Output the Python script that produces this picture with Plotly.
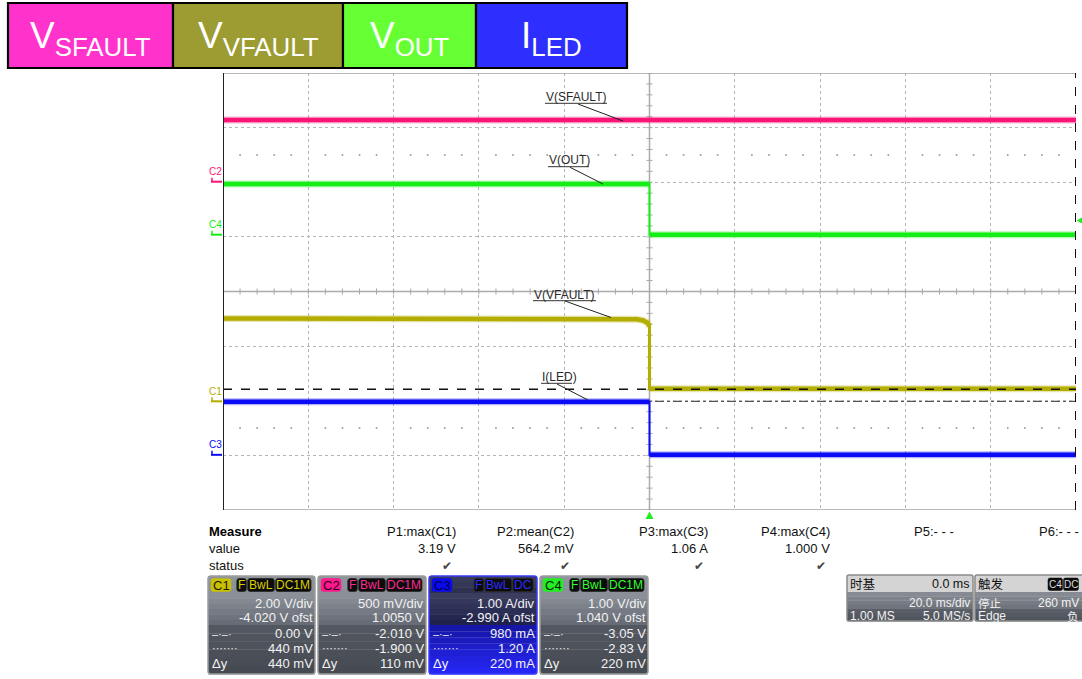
import plotly.graph_objects as go

W, H = 1082, 679
FONT = "Liberation Sans, Arial, Helvetica, sans-serif"
CJK = "Noto Sans CJK SC, Liberation Sans, sans-serif"

# ---------------- data ----------------
TIME_PER_DIV = 20.0          # ms / div
X_DIVS = 10
Y_DIVS = 8

CH_NAMES = ["C1", "C2", "C3", "C4"]
CH_SCALE = [2.0, 0.5, 1.0, 1.0]          # units / div
CH_OFFSET = [-4.02, 1.005, -2.99, 1.04]  # offsets
CH_COLORS = ["#b3ad00", "#fa1478", "#0a0af5", "#14ee14"]

# V(SFAULT) -> C2
sfault_t = [-100.0, 100.0]
sfault_v = [0.565, 0.565]
# V(OUT) -> C4
vout_t = [-100.0, 0.0, 0.0, 100.0]
vout_v = [0.93, 0.93, 0.0, 0.0]
# V(VFAULT) -> C1
vfault_t = [-100.0, -6.0, -3.0, -1.5, -0.5, 0.0, 0.0, 100.0]
vfault_v = [3.03, 3.03, 3.00, 2.96, 2.88, 2.75, 0.46, 0.46]
# I(LED) -> C3
iled_t = [-100.0, 0.0, 0.0, 100.0]
iled_i = [0.97, 0.97, 0.0, 0.0]

CURSOR_DASHDOT_C1 = 0.0
CURSOR_DOTTED_C1 = 0.44
TRIG_LEVEL_C4 = 0.26

LEGEND_MAIN = ["V", "V", "V", "I"]
LEGEND_SUB = ["SFAULT", "VFAULT", "OUT", "LED"]
LEGEND_COLORS = ["#ff33cc", "#9c9c33", "#66ff33", "#2e2eff"]

TRACE_LABELS = ["V(SFAULT)", "V(OUT)", "V(VFAULT)", "I(LED)"]

MEAS_NAMES = ["P1:max(C1)", "P2:mean(C2)", "P3:max(C3)", "P4:max(C4)", "P5:- - -", "P6:- - -"]
MEAS_VALUES = ["3.19 V", "564.2 mV", "1.06 A", "1.000 V", "", ""]
MEAS_STATUS = ["✔", "✔", "✔", "✔", "", ""]

CH_TAGS = [["F", "BwL", "DC1M"], ["F", "BwL", "DC1M"], ["F", "BwL", "DC"], ["F", "BwL", "DC1M"]]
CH_ROW_VDIV = ["2.00 V/div", "500 mV/div", "1.00 A/div", "1.00 V/div"]
CH_ROW_OFST = ["-4.020 V ofst", "1.0050 V", "-2.990 A ofst", "1.040 V ofst"]
CH_ROW_CUR1 = ["0.00 V", "-2.010 V", "980 mA", "-3.05 V"]
CH_ROW_CUR2 = ["440 mV", "-1.900 V", "1.20 A", "-2.83 V"]
CH_ROW_DY = ["440 mV", "110 mV", "220 mA", "220 mV"]

TB_TEXT = ["时基", "0.0 ms", "20.0 ms/div", "1.00 MS", "5.0 MS/s"]
TRIG_TEXT = ["触发", "C4", "DC", "停止", "260 mV", "Edge", "负"]

# ---------------- layout geometry (pixels) ----------------
PX0, PX1, PY0, PY1 = 223, 1076, 73, 510
PX_PER_XDIV = (PX1 - PX0) / X_DIVS
PX_PER_YDIV = (PY1 - PY0) / Y_DIVS


def px(x):
    return x / W


def py(y):
    return 1 - y / H


shapes = []
annotations = []


def ann(x, y, text, size=13, color="#000", xa="left", ya="middle", family=FONT, **kw):
    annotations.append(dict(x=px(x), y=py(y), xref="paper", yref="paper", text=text, showarrow=False,
                            xanchor=xa, yanchor=ya, font=dict(size=size, color=color, family=family),
                            borderpad=0, **kw))


def rect(x0, y0, x1, y1, fill, line=None, lw=0, layer="above"):
    shapes.append(dict(type="rect", xref="paper", yref="paper", x0=px(x0), x1=px(x1), y0=py(y1), y1=py(y0),
                       fillcolor=fill, line=dict(color=line or fill, width=lw), layer=layer))


def rrect(x0, y0, x1, y1, r, fill, line=None, lw=0):
    P = lambda a, b: "%.6f,%.6f" % (px(a), py(b))
    path = ("M" + P(x0 + r, y0) + " L" + P(x1 - r, y0) + " Q" + P(x1, y0) + " " + P(x1, y0 + r) +
            " L" + P(x1, y1 - r) + " Q" + P(x1, y1) + " " + P(x1 - r, y1) +
            " L" + P(x0 + r, y1) + " Q" + P(x0, y1) + " " + P(x0, y1 - r) +
            " L" + P(x0, y0 + r) + " Q" + P(x0, y0) + " " + P(x0 + r, y0) + " Z")
    shapes.append(dict(type="path", xref="paper", yref="paper", path=path,
                       fillcolor=fill if fill else "rgba(0,0,0,0)",
                       line=dict(color=line or "rgba(0,0,0,0)", width=lw), layer="above"))


def pline(x0, y0, x1, y1, color, width=1, dash="solid"):
    shapes.append(dict(type="line", xref="paper", yref="paper", x0=px(x0), x1=px(x1), y0=py(y0), y1=py(y1),
                       line=dict(color=color, width=width, dash=dash), layer="above"))


def hexmix(c0, c1, f):
    a = [int(c0[i:i + 2], 16) for i in (1, 3, 5)]
    b = [int(c1[i:i + 2], 16) for i in (1, 3, 5)]
    return "#%02x%02x%02x" % tuple(int(round(a[k] + (b[k] - a[k]) * f)) for k in range(3))


def gradient(x0, y0, x1, y1, c0, c1, n=8):
    h = (y1 - y0) / n
    for k in range(n):
        rect(x0, y0 + k * h, x1, y0 + (k + 1) * h + 0.3, hexmix(c0, c1, k / max(n - 1, 1)))


fig = go.Figure()

# ---------------- axes ----------------
half_t = X_DIVS / 2 * TIME_PER_DIV
dom_x = [px(PX0), px(PX1)]
dom_y = [py(PY1), py(PY0)]
layout_axes = dict(
    xaxis=dict(domain=dom_x, range=[-half_t, half_t], dtick=TIME_PER_DIV, tick0=0, showgrid=True,
               gridcolor="#b4b4b4", griddash="dot", gridwidth=1, zeroline=False, showticklabels=False,
               ticks="", showline=False, fixedrange=True),
    yaxis=dict(domain=dom_y, range=[-Y_DIVS / 2, Y_DIVS / 2], dtick=1, tick0=0, showgrid=True,
               gridcolor="#b4b4b4", griddash="dot", gridwidth=1, zeroline=False, showticklabels=False,
               ticks="", showline=False, fixedrange=True),
)
for i in range(4):
    s, o = CH_SCALE[i], CH_OFFSET[i]
    layout_axes["yaxis%d" % (i + 2)] = dict(overlaying="y", range=[-Y_DIVS / 2 * s - o, Y_DIVS / 2 * s - o],
                                            visible=False, showgrid=False, zeroline=False, fixedrange=True)

# center line ticks and dotted rows
tick_x, tick_y = [], []
hx = 3.0 / PX_PER_YDIV  # half tick length in y-div
n_minor_x = X_DIVS * 5
for k in range(n_minor_x + 1):
    t = -half_t + k * TIME_PER_DIV / 5
    tick_x += [t, t, None]
    tick_y += [-hx, hx, None]
hy = 3.0 / PX_PER_XDIV * TIME_PER_DIV
for k in range(Y_DIVS * 5 + 1):
    d = -Y_DIVS / 2 + k * 0.2
    tick_x += [-hy, hy, None]
    tick_y += [d, d, None]
fig.add_trace(go.Scatter(x=tick_x, y=tick_y, mode="lines", line=dict(color="#a8a8a8", width=1),
                         hoverinfo="skip", showlegend=False))
dots_x, dots_y = [], []
for yy in (2.5, -2.5):
    for k in range(1, n_minor_x):
        t = -half_t + k * TIME_PER_DIV / 5
        if k % 5:
            dots_x.append(t)
            dots_y.append(yy)
fig.add_trace(go.Scatter(x=dots_x, y=dots_y, mode="markers", marker=dict(color="#a0a0a0", size=2),
                         hoverinfo="skip", showlegend=False))

# center lines + borders
shapes.append(dict(type="line", xref="x", yref="y", x0=0, x1=0, y0=-4, y1=4,
                   line=dict(color="#ababab", width=1.5), layer="between"))
shapes.append(dict(type="line", xref="x", yref="y", x0=-half_t, x1=half_t, y0=0, y1=0,
                   line=dict(color="#ababab", width=1.5), layer="between"))
shapes.append(dict(type="line", xref="x", yref="y", x0=-half_t, x1=half_t, y0=4, y1=4,
                   line=dict(color="#a0a0a0", width=1.5), layer="above"))
shapes.append(dict(type="line", xref="x", yref="y", x0=-half_t, x1=half_t, y0=-4, y1=-4,
                   line=dict(color="#a0a0a0", width=1.5), layer="above"))

# cursor lines on C1
shapes.append(dict(type="line", xref="x", yref="y2", x0=-half_t, x1=half_t, y0=CURSOR_DASHDOT_C1,
                   y1=CURSOR_DASHDOT_C1, line=dict(color="#555555", width=1.3, dash="dashdot"), layer="below"))
shapes.append(dict(type="line", xref="x", yref="y2", x0=-half_t, x1=half_t, y0=CURSOR_DOTTED_C1,
                   y1=CURSOR_DOTTED_C1, line=dict(color="#111111", width=1.4, dash="dash"), layer="above"))

# ---------------- waveforms ----------------
waves = [(sfault_t, sfault_v, 1), (vout_t, vout_v, 3), (vfault_t, vfault_v, 0), (iled_t, iled_i, 2)]
for t, v, ch in waves:
    ax = "y%d" % (ch + 2)
    col = CH_COLORS[ch]
    tt, vv = [], []
    for i in range(len(t)):
        if i > 0 and t[i] == t[i - 1]:
            tt.append(None)
            vv.append(None)
        tt.append(t[i])
        vv.append(v[i])
    fig.add_trace(go.Scatter(x=t, y=v, yaxis=ax, mode="lines", line=dict(color=col, width=2 if ch != 0 else 3),
                             hoverinfo="skip", showlegend=False))
    fig.add_trace(go.Scatter(x=tt, y=vv, yaxis=ax, mode="lines", line=dict(color=col, width=7),
                             opacity=0.3, hoverinfo="skip", showlegend=False))
    fig.add_trace(go.Scatter(x=tt, y=vv, yaxis=ax, mode="lines", line=dict(color=col, width=4.5),
                             hoverinfo="skip", showlegend=False))

# left / right frame (time cursors)
shapes.append(dict(type="line", xref="x", yref="y", x0=-half_t, x1=-half_t, y0=-4, y1=4,
                   line=dict(color="#222222", width=2), layer="above"))
shapes.append(dict(type="line", xref="x", yref="y", x0=half_t, x1=half_t, y0=-4, y1=4,
                   line=dict(color="#111111", width=2, dash="dash"), layer="above"))

# channel ground markers
for i in range(4):
    ax = "y%d" % (i + 2)
    col = CH_COLORS[i]
    dv = 4.0 / PX_PER_YDIV * CH_SCALE[i]
    shapes.append(dict(type="line", xref="paper", yref=ax, x0=px(211), x1=px(222), y0=0, y1=0,
                       line=dict(color=col, width=2), layer="above"))
    shapes.append(dict(type="line", xref="paper", yref=ax, x0=px(212), x1=px(212), y0=0, y1=dv,
                       line=dict(color=col, width=1.5), layer="above"))
    annotations.append(dict(x=px(215), y=0, xref="paper", yref=ax, text=CH_NAMES[i], showarrow=False,
                            xanchor="center", yanchor="middle", yshift=10,
                            font=dict(size=10, color=col, family=FONT)))

# trigger level arrow on right (C4)
dv = 3.0 / PX_PER_YDIV * CH_SCALE[3]
shapes.append(dict(type="path", xref="paper", yref="y5",
                   path="M%.6f,%.6f L%.6f,%.6f L%.6f,%.6f Z" % (px(1076.5), TRIG_LEVEL_C4, px(1082), TRIG_LEVEL_C4 + dv,
                                                                px(1082), TRIG_LEVEL_C4 - dv),
                   fillcolor="#22ee22", line=dict(color="#22ee22", width=0), layer="above"))
# trigger time marker
dx = 4.0 / PX_PER_XDIV * TIME_PER_DIV
shapes.append(dict(type="path", xref="x", yref="paper",
                   path="M0,%.6f L%.6f,%.6f L%.6f,%.6f Z" % (py(511.5), dx, py(519), -dx, py(519)),
                   fillcolor="#22ee22", line=dict(color="#22ee22", width=0), layer="above"))

# ---------------- trace labels ----------------
LBL_POS = [(545, 97, 607, 103.3, (578, 104), (623, 121)),
           (548, 160, 589, 166.7, (570, 167.3), (603, 184)),
           (533, 295, 596, 300.7, (565, 301), (611, 317.5)),
           (541, 377, 572, 383.3, (557, 384), (588, 400))]
for (x0, yc, ux1, uy, a, b), lab in zip(LBL_POS, TRACE_LABELS):
    ann(x0, yc, lab, size=12, color="#2a2a2a")
    pline(x0, uy, ux1, uy, "#333333", 1)
    pline(a[0], a[1], b[0], b[1], "#222222", 1)

# ---------------- top legend boxes ----------------
LEG_X = [8, 173, 343, 476, 627]
for i in range(4):
    rect(LEG_X[i], 3, LEG_X[i + 1], 68, LEGEND_COLORS[i], "#000000", 2.2)
    ann((LEG_X[i] + LEG_X[i + 1]) / 2, 38, "%s<sub>%s</sub>" % (LEGEND_MAIN[i], LEGEND_SUB[i]),
        size=37, color="#ffffff", xa="center")

# ---------------- measurement panel ----------------
ann(208, 531.5, "<b>Measure</b>", size=13, color="#000")
ann(208, 548.5, "value", size=13, color="#111")
ann(208, 565.5, "status", size=13, color="#111")
MEAS_RIGHT = [457, 575, 709, 831, 955, 1080]
for i in range(6):
    ann(MEAS_RIGHT[i], 531.5, MEAS_NAMES[i], size=13, color="#111", xa="right")
    if MEAS_VALUES[i]:
        ann(MEAS_RIGHT[i], 548.5, MEAS_VALUES[i], size=13, color="#111", xa="right")
    if MEAS_STATUS[i]:
        ann(MEAS_RIGHT[i] - 4, 566, MEAS_STATUS[i], size=12, color="#454545", xa="right",
            family="DejaVu Sans, sans-serif")

# ---------------- channel boxes ----------------
BOX_X = [(208, 315), (318, 426), (429, 537), (540, 648)]
BADGE = ["#c8c000", "#ff1a8c", "#0a0af0", "#22ee22"]
BADGE_TXT = ["#1a1a00", "#2a0018", "#00004a", "#002200"]
TAG_TXT = ["#d8d000", "#ff2a95", "#2a2aff", "#33ff33"]
TAG_W = {"F": 9.5, "BwL": 26.6, "DC1M": 35.3, "DC": 20}
for i, (x0, x1) in enumerate(BOX_X):
    y0, y1 = 576, 674
    if i == 2:
        gradient(x0, y0, x1, 593, "#3a3d5a", "#2e3150", 3)
        gradient(x0, 593, x1, 625, "#3a3d5e", "#20224e", 6)
        gradient(x0, 625, x1, y1, "#1616a8", "#2626f4", 8)
        border = "#3a3aff"
    else:
        gradient(x0, y0, x1, 593, "#8f949d", "#8a8f98", 3)
        gradient(x0, 593, x1, 625, "#8a8f98", "#676c76", 6)
        gradient(x0, 625, x1, y1, "#53575f", "#464a52", 6)
        border = "#9c9c9c"
    rrect(x0, y0, x1, y1, 3, None, border, 1.5)
    # badge
    rrect(x0 + 3, 578.5, x0 + 23, 591.5, 2.5, BADGE[i], BADGE[i], 0.5)
    ann(x0 + 13, 585, CH_NAMES[i], size=13, color=BADGE_TXT[i], xa="center")
    # tags right aligned
    xr = x1 - 4
    for tg in reversed(CH_TAGS[i]):
        w = TAG_W[tg]
        rrect(xr - w, 578.5, xr, 591.5, 2.5, "#0c0c0c", "#2a2a2a", 0.8)
        ann(xr - w / 2, 585, tg, size=12, color=TAG_TXT[i], xa="center")
        xr -= w + 1.4
    rows = [CH_ROW_VDIV[i], CH_ROW_OFST[i], CH_ROW_CUR1[i], CH_ROW_CUR2[i], CH_ROW_DY[i]]
    ys = [603.7, 617.7, 633.7, 648.7, 663.7]
    for r, yy in zip(rows, ys):
        ann(x1 - 1.5, yy, r, size=13, color="#f2f2f2", xa="right")
    ann(x0 + 3, 633.7, "–·–·", size=11, color="#f2f2f2")
    ann(x0 + 3, 648.2, "·······", size=11, color="#f2f2f2")
    ann(x0 + 3, 663.7, "Δy", size=13, color="#f2f2f2")

# ---------------- timebase box ----------------
tx0, tx1, ty0, ty1 = 847, 973, 575, 621
rect(tx0, ty0, tx1, 592, "#d4d4d4")
gradient(tx0, 592, tx1, 609, "#868a92", "#70747c", 4)
gradient(tx0, 609, tx1, ty1, "#5a5e66", "#50545c", 3)
rrect(tx0, ty0, tx1, ty1, 2, None, "#8a8a8a", 1.5)
ann(tx0 + 2, 583.5, TB_TEXT[0], size=12.5, color="#111", family=CJK)
ann(tx1 - 2, 583.5, TB_TEXT[1], size=12.5, color="#111", xa="right")
ann(tx1 - 2, 603.0, TB_TEXT[2], size=12, color="#f2f2f2", xa="right")
ann(tx0 + 2, 615.5, TB_TEXT[3], size=12, color="#f2f2f2")
ann(tx1 - 2, 615.5, TB_TEXT[4], size=12, color="#f2f2f2", xa="right")

# ---------------- trigger box ----------------
rx0, rx1 = 975, 1082
rect(rx0, ty0, rx1, 592, "#d4d4d4")
gradient(rx0, 592, rx1, 609, "#868a92", "#70747c", 4)
gradient(rx0, 609, rx1, ty1, "#5a5e66", "#50545c", 3)
rrect(rx0, ty0, rx1 + 2, ty1, 2, None, "#8a8a8a", 1.5)
ann(rx0 + 2, 583.5, TRIG_TEXT[0], size=12.5, color="#111", family=CJK)
rrect(1048, 578, 1062.5, 590.5, 2, "#0c0c0c", "#0c0c0c", 0.5)
ann(1055.2, 584.3, TRIG_TEXT[1], size=10, color="#dcdcdc", xa="center")
rrect(1063.5, 578, 1078.5, 590.5, 2, "#0c0c0c", "#0c0c0c", 0.5)
ann(1071, 584.3, TRIG_TEXT[2], size=10, color="#dcdcdc", xa="center")
ann(rx0 + 2, 602.5, TRIG_TEXT[3], size=11.5, color="#f2f2f2", family=CJK)
ann(1080, 603.0, TRIG_TEXT[4], size=12, color="#f2f2f2", xa="right")
ann(rx0 + 2, 615.5, TRIG_TEXT[5], size=12, color="#f2f2f2")
ann(1080, 616.0, TRIG_TEXT[6], size=11.5, color="#f2f2f2", xa="right", family=CJK)

fig.update_layout(width=W, height=H, margin=dict(l=0, r=0, t=0, b=0), paper_bgcolor="white",
                  plot_bgcolor="white", showlegend=False, shapes=shapes, annotations=annotations,
                  **layout_axes)
fig.write_html("out.html", config={"displayModeBar": False},
               post_script="document.body.style.margin='0';document.body.style.overflow='hidden';")
